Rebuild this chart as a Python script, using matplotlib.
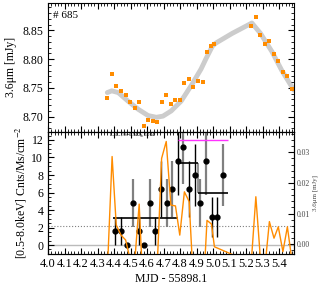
import matplotlib
matplotlib.use("Agg")
import matplotlib.pyplot as plt
from matplotlib.ticker import MultipleLocator

plt.rcParams["font.family"] = "serif"
plt.rcParams["font.serif"] = ["Liberation Serif", "DejaVu Serif"]
plt.rcParams["mathtext.fontset"] = "stix"
plt.rcParams["font.size"] = 8

# 3.6um light curve (MJD - 55898.1, mJy)
t_ir = [4.359, 4.388, 4.413, 4.442, 4.470, 4.498, 4.526, 4.552, 4.580, 4.606,
        4.634, 4.660, 4.688, 4.716, 4.744, 4.772, 4.798, 4.826, 4.855, 4.880,
        4.909, 4.936, 4.963, 4.990, 5.008, 5.231, 5.259, 5.287, 5.313, 5.341,
        5.369, 5.395, 5.423, 5.450, 5.477]
f_ir = [8.733, 8.774, 8.754, 8.744, 8.737, 8.725, 8.715, 8.725, 8.684, 8.695,
        8.692, 8.690, 8.725, 8.737, 8.722, 8.729, 8.729, 8.758, 8.766, 8.752,
        8.763, 8.760, 8.813, 8.823, 8.826, 8.858, 8.873, 8.843, 8.826, 8.832,
        8.809, 8.797, 8.777, 8.770, 8.748]

# smooth model through the light curve
t_mod = [4.359, 4.386, 4.425, 4.485, 4.546, 4.606, 4.656, 4.696, 4.746, 4.806,
         4.867, 4.927, 4.957, 4.996, 5.016, 5.116, 5.235, 5.287, 5.357, 5.417, 5.49]
f_mod = [8.742, 8.745, 8.742, 8.727, 8.713, 8.702, 8.699, 8.701, 8.710, 8.727,
         8.754, 8.783, 8.801, 8.823, 8.828, 8.845, 8.863, 8.845, 8.813, 8.780, 8.746]

# residual flux on the right axis (mJy)
res_ir = [-0.009, 0.0286, 0.0063, 0.0030, 0.0014, -0.005, -0.005, 0.0131, -0.020, -0.008,
          -0.008, -0.009, 0.028, 0.0335, 0.0128, 0.0125, 0.0030, 0.0171, 0.0139, -0.012,
          -0.012, -0.020, 0.0078, 0.0066, -0.0008, -0.006, 0.0155, -0.005, -0.008, 0.0074,
          0.0020, 0.0057, -0.0024, 0.0057, -0.005]

# X-ray rate
t_x = [4.407, 4.444, 4.478, 4.512, 4.548, 4.582, 4.616, 4.648, 4.684, 4.718,
       4.752, 4.786, 4.820, 4.855, 4.888, 4.922, 4.957, 4.993, 5.026, 5.061]
rate_x = [1.6, 1.6, 0.0, 4.8, 1.6, 0.0, 4.8, 1.6, 6.4, 4.8,
          6.4, 9.6, 11.2, 6.4, 8.0, 4.8, 9.6, 3.2, 3.2, 8.0]
err_x = [1.6, 1.6, 0.0, 2.77, 1.6, 0.0, 2.77, 1.6, 3.2, 2.77,
         3.2, 3.92, 4.23, 3.2, 3.58, 2.77, 3.92, 2.26, 2.26, 3.58]
bar_col = ["k", "k", "k", "gray", "k", "k", "gray", "k", "k", "gray",
           "gray", "k", "gray", "k", "k", "gray", "gray", "k", "k", "gray"]

# blocks
blk_edges = [4.392, 4.786, 4.906, 5.089]
blk_level = [3.05, 9.4, 5.9]
flare_span = [4.786, 5.089]
flare_level = 12.0
thresh = 2.2

fig = plt.figure(figsize=(3.27, 2.90), dpi=100)
ax1 = fig.add_axes([0.147, 0.546, 0.752, 0.444])
ax2 = fig.add_axes([0.147, 0.123, 0.752, 0.423], sharex=ax1)

# top panel
ax1.plot(t_mod, f_mod, color="#cccccc", lw=3.5, solid_capstyle="round", zorder=1)
ax1.plot(t_ir, f_ir, "s", color="#ff8c00", ms=2.4, mew=0, zorder=2)
ax1.set_xlim(4.0, 5.49)
ax1.set_ylim(8.674, 8.898)
ax1.set_ylabel("3.6μm [mJy]", fontsize=8.5)
ax1.yaxis.set_major_locator(MultipleLocator(0.05))
ax1.yaxis.set_minor_locator(MultipleLocator(0.01))
ax1.text(0.02, 0.935, "# 685", transform=ax1.transAxes, ha="left", va="top", fontsize=8)
ax1.tick_params(labelbottom=False)

# bottom panel
ax2.axhline(0, color="#bbbbbb", lw=1, zorder=0)
ax2.axhline(thresh, color="gray", lw=0.8, ls=":", zorder=0)
for t, r, e, c in zip(t_x, rate_x, err_x, bar_col):
    lw = 1.6 if c == "gray" else 1.0
    ax2.errorbar(t, r, yerr=e, fmt="o", color="k", ecolor=c, elinewidth=lw,
                 ms=3.5, capsize=0, zorder=3)
ax2.hlines(blk_level, blk_edges[:-1], blk_edges[1:], color="k", lw=1.2, zorder=4)
ax2.vlines(blk_edges[2], blk_level[2], blk_level[1], color="gray", lw=1.2, zorder=2)
ax2.hlines(flare_level, flare_span[0], flare_span[1], color="#ff33ff", lw=1.0, zorder=4)
ax2.set_ylim(-1.06, 12.95)
ax2.yaxis.set_major_locator(MultipleLocator(2))
ax2.yaxis.set_minor_locator(MultipleLocator(0.5))
ax2.set_xticks([4.0, 4.1, 4.2, 4.3, 4.4, 4.5, 4.6, 4.7, 4.8, 4.9, 5.0, 5.1, 5.2, 5.3, 5.4])
ax2.set_xlabel("MJD - 55898.1", labelpad=2, fontsize=8.5)
ax2.set_ylabel("[0.5-8.0keV] Cnts/Ms/cm$^{-2}$", labelpad=2, fontsize=8.5)
ax2.text(0.345, 0.995, r"L$_X$/L$_{\nu,3.6}$=0.942$\pm$0.044", transform=ax2.transAxes,
         ha="center", va="top", fontsize=3.5)

ax3 = ax2.twinx()
ax3.plot(t_ir, res_ir, color="#ff8c00", lw=1.0)
ax3.set_ylim(-0.00326, 0.0367)
ax3.yaxis.set_major_locator(MultipleLocator(0.01))
ax3.yaxis.set_minor_locator(MultipleLocator(0.002))
ax3.set_ylabel("3.6μm [mJy]", fontsize=5, color="#444444", labelpad=2)
ax3.tick_params(axis="y", which="both", direction="in", labelsize=5.5,
                labelcolor="#444444", pad=2)
ax3.tick_params(axis="y", which="major", length=4)
ax3.tick_params(axis="y", which="minor", length=2)

for ax in (ax1, ax2):
    ax.xaxis.set_minor_locator(MultipleLocator(0.02))
    ax.tick_params(which="both", direction="in", top=True)
    ax.tick_params(which="major", length=4, labelsize=8.5)
    ax.tick_params(which="minor", length=2)
ax1.tick_params(which="both", right=True)
ax2.tick_params(which="both", right=False)
ax2.tick_params(axis="x", pad=3, labelsize=9)

fig.savefig("out.png", dpi=100)
